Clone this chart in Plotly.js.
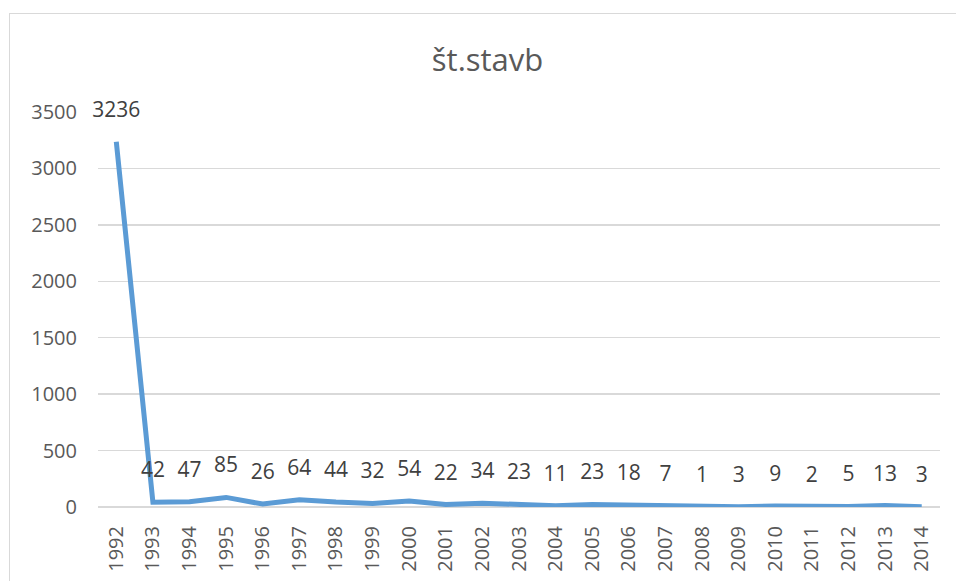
<!DOCTYPE html>
<html>
<head>
<meta charset="utf-8">
<script src="https://cdn.plot.ly/plotly-3.0.1.min.js"></script>
<style>
html,body{margin:0;padding:0;background:#fff;overflow:hidden;}
#frame{position:absolute;left:9px;top:13px;width:1200px;height:1000px;border:1.5px solid #d9d9d9;}
#chart{position:absolute;left:0;top:0;width:956px;height:581px;}
</style>
</head>
<body>
<div id="frame"></div>
<div id="chart"></div>
<script>
const years = ["1992","1993","1994","1995","1996","1997","1998","1999","2000","2001","2002","2003","2004","2005","2006","2007","2008","2009","2010","2011","2012","2013","2014"];
const counts = [3236,42,47,85,26,64,44,32,54,22,34,23,11,23,18,7,1,3,9,2,5,13,3];
const yTicks = [0,500,1000,1500,2000,2500,3000,3500];
const chartTitle = "št.stavb";

const textColor = "#595959";
const fontFam = "Open Sans, Noto Sans, sans-serif";

const lineTrace = {
  x: years,
  y: counts,
  type: "scatter",
  mode: "lines",
  line: {color: "#5b9bd5", width: 5},
  hoverinfo: "x+y"
};

const labelTrace = {
  x: years,
  y: counts,
  type: "scatter",
  mode: "markers+text",
  marker: {size: 30, color: "rgba(0,0,0,0)"},
  text: counts.map(String),
  textposition: "top center",
  textfont: {family: fontFam, size: 21, color: "#404040"},
  cliponaxis: false,
  hoverinfo: "skip"
};

const layout = {
  width: 956, height: 581,
  paper_bgcolor: "rgba(0,0,0,0)",
  plot_bgcolor: "rgba(0,0,0,0)",
  margin: {l: 98, r: 16, t: 112, b: 74},
  showlegend: false,
  title: {text: chartTitle, x: 0.51, xanchor: "center", y: 0.897, yanchor: "middle",
          font: {family: fontFam, size: 31, color: textColor}},
  xaxis: {
    type: "category", range: [-0.5, 22.5], tickangle: -90,
    showgrid: false, zeroline: false, showline: false, ticks: "",
    ticklabelstandoff: 14,
    tickfont: {family: fontFam, size: 20, color: textColor}
  },
  yaxis: {
    range: [0, 3500], tickvals: yTicks, ticktext: yTicks.map(String),
    showgrid: true, gridcolor: "#d9d9d9", gridwidth: 1.3,
    zeroline: true, zerolinecolor: "#d9d9d9", zerolinewidth: 1.3,
    showline: false, ticks: "", ticklabelstandoff: 20,
    tickfont: {family: fontFam, size: 20, color: textColor}
  }
};

Plotly.newPlot("chart", [lineTrace, labelTrace], layout, {displayModeBar: false, staticPlot: true});
</script>
</body>
</html>
